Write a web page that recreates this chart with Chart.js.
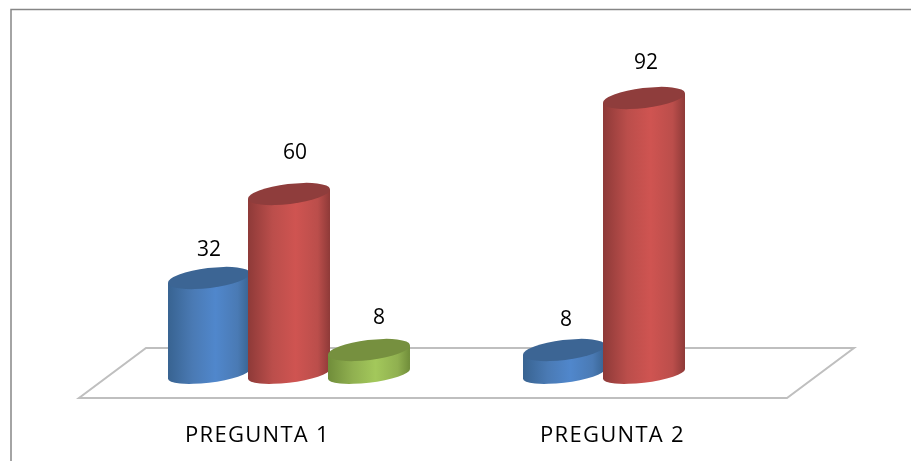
<!DOCTYPE html>
<html>
<head>
<meta charset="utf-8">
<title>Preguntas</title>
<style>
  html, body { margin: 0; padding: 0; background: #fff; }
  canvas { display: block; }
</style>
<script src="https://cdn.jsdelivr.net/npm/chart.js@4/dist/chart.umd.min.js"></script>
</head>
<body>
<canvas id="chart" width="911" height="461"></canvas>
<script>
const categories = ["PREGUNTA 1", "PREGUNTA 2"];
const serieA = [32, 8];
const serieB = [60, 92];
const serieC = [8, null];

const FONT = "'Open Sans', Lato, sans-serif";

// edge, mid, highlight, lid colours per series
const shades = [
  { edge: "#386391", mid: "#4a7ab4", light: "#5087cc", lid: "#3c6594" },
  { edge: "#8e3a38", mid: "#bb4e4b", light: "#cf5451", lid: "#8f3d3c" },
  { edge: "#708d3a", mid: "#90b050", light: "#a3c85b", lid: "#76903f" },
];

// hand-placed label shifts, [series][category]
const labelShift = [
  [[0, -28], [2, -30]],
  [[6, -41], [2, -35]],
  [[10, -32], null],
];

const TILT = -7 * Math.PI / 180;
const LID_MINOR = 10;
const BASE_MINOR = 8.6;

// semi-major axis and the tangent point of a tilted ellipse spanning halfW
function ellipseFit(halfW, minor) {
  const major = Math.sqrt((halfW * halfW - minor * minor * Math.sin(TILT) ** 2) / Math.cos(TILT) ** 2);
  const t0 = Math.atan2(-minor * Math.sin(TILT), major * Math.cos(TILT));
  const edgeY = major * Math.cos(t0) * Math.sin(TILT) + minor * Math.sin(t0) * Math.cos(TILT);
  return { major, t0, edgeY };
}

function cylinder(ctx, cx, top, base, width, c) {
  const halfW = width / 2 + 1;
  const lid = ellipseFit(halfW, LID_MINOR);
  const foot = ellipseFit(halfW, BASE_MINOR);

  const g = ctx.createLinearGradient(cx - halfW, 0, cx + halfW, 0);
  g.addColorStop(0, c.edge);
  g.addColorStop(0.3, c.mid);
  g.addColorStop(0.58, c.light);
  g.addColorStop(0.85, c.mid);
  g.addColorStop(1, c.edge);

  ctx.beginPath();
  ctx.moveTo(cx + halfW, top + lid.edgeY);
  ctx.lineTo(cx + halfW, base + foot.edgeY);
  ctx.ellipse(cx, base, foot.major, BASE_MINOR, TILT, foot.t0, foot.t0 + Math.PI);
  ctx.lineTo(cx - halfW, top - lid.edgeY);
  ctx.closePath();
  ctx.fillStyle = g;
  ctx.fill();

  ctx.beginPath();
  ctx.ellipse(cx, top, lid.major, LID_MINOR, TILT, 0, Math.PI * 2);
  ctx.fillStyle = c.lid;
  ctx.fill();
}

const cylinderPlugin = {
  id: "cylinders",
  beforeDraw(chart) {
    // axis labels are drawn with wider tracking
    chart.ctx.letterSpacing = "1.3px";
  },
  beforeDatasetsDraw(chart) {
    const { ctx, chartArea: a } = chart;
    ctx.save();

    // outer frame, open on the right and at the bottom
    ctx.strokeStyle = "#868686";
    ctx.lineWidth = 1.5;
    ctx.beginPath();
    ctx.moveTo(911, 9.5);
    ctx.lineTo(11, 9.5);
    ctx.lineTo(11, 461);
    ctx.stroke();

    // floor of the 3D plot
    ctx.strokeStyle = "#bfbfbf";
    ctx.lineWidth = 2;
    ctx.lineJoin = "miter";
    ctx.beginPath();
    ctx.moveTo(a.left - 32.5, a.bottom + 24);
    ctx.lineTo(a.right - 34.5, a.bottom + 24);
    ctx.lineTo(a.right + 32.5, a.bottom - 26);
    ctx.lineTo(a.left + 34.5, a.bottom - 26);
    ctx.closePath();
    ctx.stroke();
    ctx.restore();
  },
  afterDatasetsDraw(chart) {
    const { ctx } = chart;
    ctx.save();
    chart.data.datasets.forEach((ds, i) => {
      chart.getDatasetMeta(i).data.forEach((bar, j) => {
        if (ds.data[j] == null) return;
        cylinder(ctx, bar.x, bar.y, bar.base, bar.width, shades[i]);
      });
    });

    ctx.fillStyle = "#000";
    ctx.font = "21px " + FONT;
    ctx.letterSpacing = "0px";
    ctx.textAlign = "center";
    ctx.textBaseline = "middle";
    chart.data.datasets.forEach((ds, i) => {
      chart.getDatasetMeta(i).data.forEach((bar, j) => {
        if (ds.data[j] == null) return;
        const s = labelShift[i][j];
        ctx.fillText(String(ds.data[j]), bar.x + s[0], bar.y + s[1]);
      });
    });
    ctx.restore();
  },
};

new Chart(document.getElementById("chart"), {
  type: "bar",
  data: {
    labels: categories,
    datasets: [
      { label: "A", data: serieA, backgroundColor: "transparent" },
      { label: "B", data: serieB, backgroundColor: "transparent" },
      { label: "C", data: serieC, backgroundColor: "transparent" },
    ],
  },
  options: {
    responsive: false,
    animation: false,
    layout: { padding: { left: 111.5, right: 89.5, top: 74, bottom: 0 } },
    datasets: { bar: { barPercentage: 1, categoryPercentage: 0.676 } },
    plugins: { legend: { display: false }, tooltip: { enabled: false } },
    scales: {
      x: {
        // fixed band under the plot so the labels sit well below the floor
        afterFit(scale) { scale.height = 87; },
        grid: { display: false },
        border: { display: false },
        ticks: {
          padding: 41,
          labelOffset: -31.5,
          color: "#000",
          maxRotation: 0,
          font: { family: FONT, size: 22 },
        },
      },
      y: { display: false, min: 0, max: 100 },
    },
  },
  plugins: [cylinderPlugin],
});
</script>
</body>
</html>
